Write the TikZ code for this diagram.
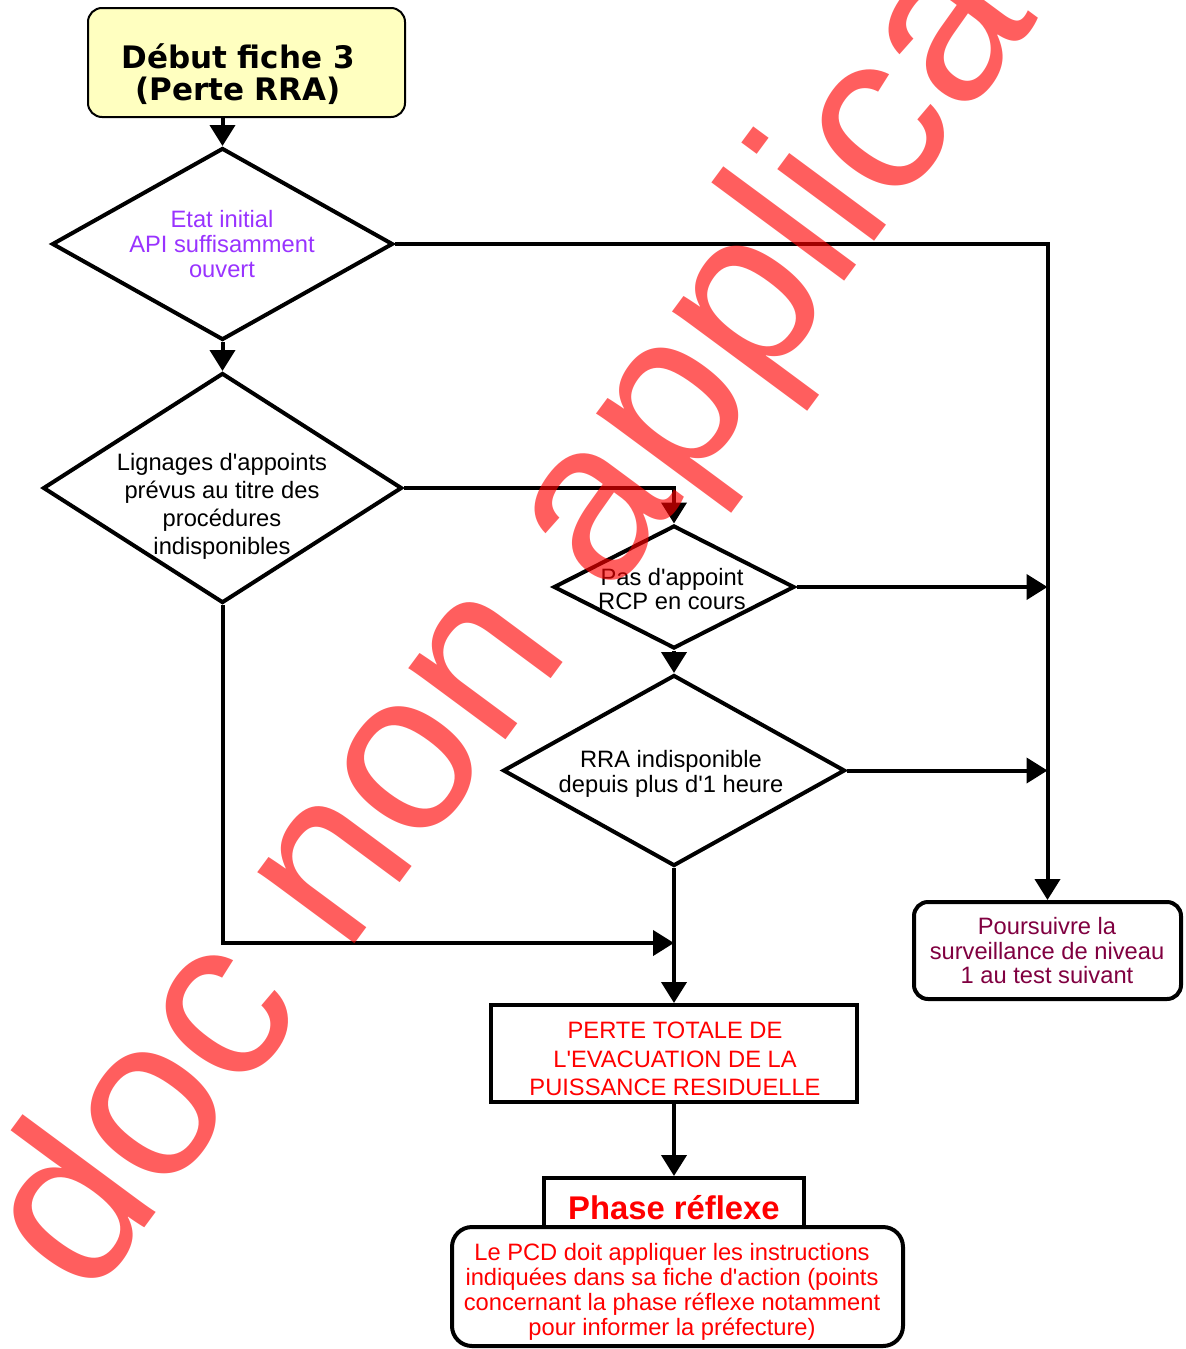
\documentclass[tikz,border=0pt]{standalone}
\usepackage{fontspec}
\setmainfont{Liberation Sans}[Ligatures=TeXOff]
\newfontfamily\comicfont{DejaVu Sans}[Ligatures=TeXOff]
\usetikzlibrary{shapes.geometric, arrows.meta}
\definecolor{paleyellow}{RGB}{255, 255, 192}
\definecolor{lilac}{RGB}{153, 51, 255}
\definecolor{wine}{RGB}{128, 0, 64}
\newcommand{\txt}{\fontsize{11.85}{12.5}\selectfont}

\begin{document}
\begin{tikzpicture}[x=0.5pt, y=-0.5pt, line width=2pt,
    deci/.style={draw, diamond, inner sep=0pt},
    box/.style={draw, rectangle, inner sep=0pt},
    words/.style={align=center, inner sep=0pt, font=\txt},
    link/.style={-{Triangle[width=12.5pt, length=10.5pt]}},
    stamp/.style={text=red, text opacity=0.63, inner sep=0pt, font=\fontsize{114}{114}\selectfont}]

  \useasboundingbox (0, 0) rectangle (1185, 1349);

  \node[box, fill=paleyellow, rounded corners=7pt, line width=1pt, minimum width=158.5pt, minimum height=54.5pt] (start) at (246.5, 62.5) {};
  \node[words, font=\comicfont\bfseries\fontsize{15.5}{16}\selectfont] (starttxt) at (238, 74) {Début fiche 3\\ (Perte RRA)};

  \node[deci, minimum width=170.5pt, minimum height=96pt] (etat) at (222.5, 244) {};
  \node[words, text=lilac] (etattxt) at (222, 244.5) {Etat initial\\ API suffisamment\\ ouvert};

  \node[deci, minimum width=179.5pt, minimum height=115pt] (lign) at (222.5, 488) {};
  \node[words, font=\fontsize{11.85}{14}\selectfont] (ligntxt) at (222, 506) {Lignages d'appoints\\ prévus au titre des\\ procédures\\ indisponibles};

  \node[deci, minimum width=120.5pt, minimum height=61.5pt] (pas) at (674, 587) {};
  \node[words, font=\fontsize{11.85}{12}\selectfont] (pastxt) at (672, 589.5) {Pas d'appoint\\ RCP en cours};

  \node[deci, minimum width=171pt, minimum height=95.5pt] (rra) at (674, 770.5) {};
  \node[words] (rratxt) at (671, 773.5) {RRA indisponible\\ depuis plus d'1 heure};

  \node[box, rounded corners=7pt, minimum width=133.5pt, minimum height=48.5pt] (pours) at (1047.5, 950.5) {};
  \node[words, text=wine, font=\fontsize{11.85}{12.25}\selectfont] (pourstxt) at (1047, 951) {Poursuivre la\\ surveillance de niveau\\ 1 au test suivant};

  \node[box, minimum width=183pt, minimum height=48.5pt] (perte) at (674, 1053.5) {};
  \node[words, text=red, font=\fontsize{11.85}{14.25}\selectfont] (pertetxt) at (675, 1059) {PERTE TOTALE DE\\ L'EVACUATION DE LA\\ PUISSANCE RESIDUELLE};

  \node[box, minimum width=130pt, minimum height=31pt] (phase) at (674, 1209) {};
  \node[words, text=red, font=\bfseries\fontsize{16.4}{18}\selectfont] (phasetxt) at (674, 1208) {Phase réflexe};

  \node[box, fill=white, rounded corners=10pt, minimum width=225.5pt, minimum height=59.5pt] (instr) at (677.5, 1286.5) {};
  \node[words, text=red] (instrtxt) at (672, 1291.5) {Le PCD doit appliquer les instructions\\ indiquées dans sa fiche d'action (points\\ concernant la phase réflexe notamment\\ pour informer la préfecture)};

  \draw[link] (etat.north |- start.south) -- (etat.north);
  \draw[link] (etat.south) -- (lign.north);
  \draw[link] (etat.east) -| (pours.north);
  \draw[link] (lign.east) -| (pas.north);
  \draw[link] (pas.east) -- (pas.east -| pours.north);
  \draw[link] (pas.south) -- (rra.north);
  \draw[link] (rra.east) -- (rra.east -| pours.north);
  \draw[link] (rra.south) -- (perte.north);
  \coordinate (join) at (rra.south |- 0, 943);
  \draw[link] (lign.south) |- (join);
  \draw[link] (perte.south) -- (phase.north);

  \begin{scope}
    \clip (0, 0) rectangle (1185, 1349);
    \node[stamp, rotate=53.5, anchor=base west] (wm) at (88, 1304) {doc non applica};
  \end{scope}

\end{tikzpicture}
\end{document}
